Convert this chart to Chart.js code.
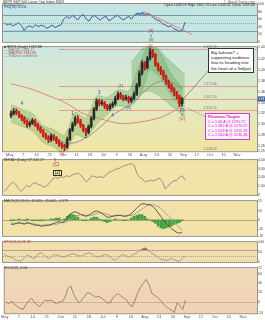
<!DOCTYPE html>
<html>
<head>
<meta charset="utf-8">
<script src="https://cdn.jsdelivr.net/npm/chart.js@4.4.0/dist/chart.umd.min.js"></script>
<style>
  body { margin: 0; width: 265px; height: 320px; background: #fff; position: relative; overflow: hidden; font-family: "Liberation Sans", Arial, sans-serif; }
  .pane { position: absolute; left: 0; width: 265px; }
  .txt { position: absolute; font-size: 3.6px; line-height: 4px; color: #333; white-space: nowrap; }
  .note { position: absolute; background: #fff; border: 1px solid #333; font-size: 4.3px; line-height: 5.2px; padding: 1px 2px; color: #111; white-space: nowrap; }
  .fib { position: absolute; background: #fbf2fb; border: 1px solid #d040c0; font-size: 3.8px; line-height: 4.6px; padding: 1px 2px; color: #d020c0; white-space: nowrap; }
</style>
</head>
<body>
<div class="pane" style="top:0;height:45px"><canvas id="rsiChart"></canvas></div>
<div class="pane" style="top:44px;height:114px"><canvas id="priceChart"></canvas></div>
<div class="pane" style="top:157px;height:41px"><canvas id="adChart"></canvas></div>
<div class="pane" style="top:198px;height:41px"><canvas id="macdChart"></canvas></div>
<div class="pane" style="top:239px;height:26px"><canvas id="stoChart"></canvas></div>
<div class="pane" style="top:265px;height:55px"><canvas id="rocChart"></canvas></div>

<div class="txt" style="left:3px;top:0">$SPX S&amp;P 500 Large Cap Index  INDX</div>
<div class="txt" style="left:3px;top:3px;color:#666">16-Nov-2012</div>
<div class="txt" style="right:10px;top:0;color:#666">© StockCharts.com</div>
<div class="txt" style="right:10px;top:3px">Open 1348.59 High 1362.19 Low 1343.35 Close 1359.88</div>
<div class="txt" style="left:4px;top:5px;color:#2050b0">RSI(14) 50.04</div>
<div class="txt" style="left:4px;top:45px">■ $SPX (Daily) 1359.88</div>
<div class="txt" style="left:4px;top:48px;color:#777">— MA(50) 1408.17</div>
<div class="txt" style="left:4px;top:51px;color:#d03030">— MA(200) 1384.69</div>
<div class="txt" style="left:4px;top:54px;color:#777">— Volume undefined</div>
<div class="txt" style="left:4px;top:158px">$NYAD (Daily) 37,522.27</div>
<div class="txt" style="left:4px;top:199px">MACD(12,26,9) -12.620, -11.041, -1.579</div>
<div class="txt" style="left:4px;top:240px;color:#c03030">STO(14,3) 21.35</div>
<div class="txt" style="left:4px;top:266px">ROC(12) -1.54</div>

<div class="txt" style="left:54px;top:158px;color:#2040c0;font-size:4px">5</div>
<div class="txt" style="left:53px;top:163px;color:#d02020;font-size:4.5px">(C)</div>
<div class="txt" style="left:53px;top:170px;color:#111;font-size:4.5px;border:0.5px solid #333;padding:0 1px">[2]</div>

<div class="note" style="left:208px;top:48px">Big kahuna? +<br>supporting evidence<br>that its heading into<br>the heart of a 3rd(pz)</div>
<div class="fib" style="left:205px;top:113px"><b>Fibonacci Targets</b><br>C = 1.00 A @ 1295.72<br>C = 1.382 A @ 1270.57<br>C = 1.618 A @ 1255.28<br>C = 2.000 A @ 1230.48</div>

<script>
// tick labels, one every five bars
const tickLabels = ['May', '7', '14', '21', 'Jun', '11', '18', 'Jul', '9', '16', 'Aug', '13', '20', 'Sep', '17', 'Oct', '15', 'Nov'];

// price candles
const opens = [1316, 1320, 1325, 1321, 1316, 1311, 1305, 1299, 1302, 1307,
  1300, 1293, 1288, 1281, 1276, 1271, 1278, 1275, 1268, 1263,
  1260, 1258, 1272, 1289, 1300, 1311, 1306, 1298, 1290, 1285,
  1296, 1311, 1328, 1343, 1338, 1340, 1334, 1329, 1334, 1338,
  1348, 1356, 1351, 1347, 1350, 1343, 1348, 1356, 1372, 1395,
  1414, 1405, 1422, 1436, 1429, 1411, 1404, 1397, 1388, 1379,
  1372, 1365, 1358, 1352, 1338];
const closes = [1320, 1324, 1322, 1316, 1311, 1305, 1298, 1302, 1307, 1300,
  1293, 1288, 1280, 1276, 1271, 1278, 1275, 1268, 1263, 1260,
  1257, 1272, 1289, 1300, 1311, 1306, 1298, 1290, 1284, 1296,
  1311, 1328, 1343, 1338, 1340, 1333, 1329, 1334, 1338, 1348,
  1356, 1351, 1347, 1350, 1343, 1348, 1356, 1372, 1395, 1414,
  1405, 1422, 1436, 1429, 1411, 1404, 1397, 1388, 1379, 1372,
  1365, 1358, 1352, 1338, 1347];
const highs = [1325, 1329, 1328, 1324, 1318, 1314, 1308, 1306, 1311, 1309,
  1302, 1296, 1290, 1284, 1279, 1282, 1281, 1277, 1271, 1266,
  1263, 1276, 1292, 1304, 1315, 1316, 1309, 1300, 1293, 1299,
  1314, 1331, 1347, 1346, 1345, 1342, 1337, 1338, 1342, 1352,
  1360, 1359, 1354, 1354, 1352, 1351, 1360, 1376, 1399, 1418,
  1416, 1426, 1441, 1439, 1431, 1414, 1407, 1400, 1391, 1382,
  1375, 1368, 1361, 1354, 1350];
const lows = [1312, 1317, 1318, 1312, 1306, 1301, 1294, 1295, 1299, 1296,
  1289, 1284, 1276, 1272, 1266, 1268, 1270, 1264, 1259, 1255,
  1251, 1255, 1270, 1286, 1297, 1302, 1294, 1286, 1279, 1282,
  1293, 1308, 1325, 1334, 1335, 1329, 1325, 1326, 1331, 1335,
  1345, 1347, 1343, 1344, 1339, 1340, 1345, 1353, 1369, 1391,
  1400, 1402, 1419, 1424, 1407, 1399, 1392, 1383, 1374, 1367,
  1360, 1353, 1347, 1333, 1334];

// envelope around price [bar, value]
const bandUpper = [[0, 1336], [4, 1328], [8, 1320], [12, 1298], [16, 1290], [20, 1280], [24, 1322], [28, 1312], [32, 1352],
  [36, 1350], [40, 1364], [44, 1362], [48, 1410], [52, 1448], [56, 1430], [60, 1392], [64, 1368]];
const bandLower = [[0, 1304], [4, 1296], [8, 1288], [12, 1266], [16, 1258], [20, 1244], [24, 1280], [28, 1275], [32, 1300],
  [36, 1318], [40, 1334], [44, 1332], [48, 1350], [52, 1400], [56, 1385], [60, 1352], [64, 1330]];
// declining channel after the top
const channelUpper = [[45, 1415], [52, 1451], [58, 1424], [65, 1392]];
const channelLower = [[45, 1349], [52, 1361], [60, 1334], [65, 1313]];
// moving averages [bar, value]
const ma50 = [[0, 1322], [6, 1311], [13, 1290], [20, 1266], [27, 1272], [35, 1302], [38, 1317], [45, 1338], [51, 1366], [56, 1380], [61, 1376], [64, 1366]];
const ma200 = [[0, 1375], [7, 1366], [14, 1353], [21, 1338], [27, 1320], [35, 1308], [40, 1302], [45, 1302], [55, 1311], [60, 1322], [64, 1335]];
const fibLevels = [1440, 1371, 1347, 1326];

// indicator panels
const rsi = [50, 45, 48, 42, 46, 50, 44, 30, 40, 42, 38, 45, 40, 44, 42, 36, 40, 44, 38, 42, 45, 60, 67,
  62, 70, 65, 58, 68, 72, 60, 55, 66, 70, 62, 58, 64, 68, 56, 60, 66, 70, 64, 58, 62, 68, 60,
  70, 76, 74, 78, 72, 75, 70, 62, 58, 55, 48, 45, 40, 42, 35, 32, 28, 30, 52];
const nyad = [400, 800, 1200, 1500, 1200, 700, 400, 800, 1100, 900,
  1300, 1400, 1200, 1100, 900, 1000, 1400, 1800, 2000, 1900,
  2100, 2000, 2200, 2100, 2300, 2400, 2500, 2300, 1900, 1500,
  1800, 2200, 2100, 2000, 2100, 2000, 2300, 2600, 2700, 2900,
  3000, 3100, 3300, 3400, 3500, 3600, 3400, 2400, 2000, 1800,
  1500, 1600, 1700, 1600, 1800, 1900, 1500, 700, 1000, 1400,
  1600, 1700, 2000, 2200, 1700];
const macd = [-5, -5, -4, -3, -4, -5, -3, -4, -5, -6, -6, -7, -7, -6, -6, -5, -4, -3, -2, -3,
  -2, 2, 6, 8, 9, 8, 6, 5, 4, 5, 7, 9, 10, 9, 7, 5, 3, 3, 4, 5,
  5, 5, 4, 4, 5, 7, 10, 13, 16, 18, 18, 17, 17, 15, 12, 8, 4, 0, -4, -7,
  -10, -12, -14, -15, -14];
const macdSignal = [-4, -4, -4, -4, -4, -4, -4, -4, -4, -5, -5, -6, -6, -6, -6, -6, -5, -5, -4, -3,
  -3, -2, 0, 2, 4, 5, 6, 6, 5, 5, 5, 6, 7, 8, 8, 7, 6, 5, 4, 4,
  5, 5, 5, 5, 5, 5, 6, 8, 10, 12, 14, 16, 17, 17, 16, 15, 13, 10, 7, 4,
  1, -3, -6, -9, -11];
const macdHist = [-1, -1, 0, 1, 0, -1, 1, 0, -1, -1, -1, -1, -1, 0, 0, 1, 1, 2, 2, 0,
  1, 4, 6, 6, 5, 3, 0, -1, -1, 0, 2, 3, 3, 1, -1, -2, -3, -2, 0, 1,
  0, 0, -1, -1, 0, 2, 4, 5, 6, 6, 4, 1, 0, -2, -4, -7, -9, -10, -9, -8,
  -7, -5, -4, -3, -1];
const stoch = [38, 30, 25, 20, 10, 6, 4, 20, 35, 28, 18, 22, 40, 46, 35, 22, 17, 30, 38, 34,
  28, 25, 30, 36, 42, 38, 32, 29, 35, 42, 46, 40, 30, 25, 28, 34, 38, 30, 18, 8,
  15, 30, 38, 32, 25, 30, 40, 46, 58, 67, 71, 60, 45, 37, 28, 17, 12, 8, 10, 17,
  12, 6, 4, 15, 29];
const roc = [0, -4, 2, -6, -10, -14, -16, -6, 2, 8, 0, -6, -10, -2, 4, 2, 4, 0, -4, 0,
  0, 10, 28, 34, 18, 6, -2, 4, 12, 20, 18, 14, 10, 12, 8, 4, -2, -2, 8, 14,
  18, 12, 8, 4, -6, -10, 4, 20, 32, 40, 48, 36, 18, 14, 10, 4, -4, -10, -14, -18,
  -22, -2, -8, -16, 4];

const FONT = '"Liberation Sans", Arial, sans-serif';
const seq = arr => arr.map((y, x) => ({ x, y }));
const pairs = arr => arr.map(([x, y]) => ({ x, y }));

function line(data, color, width, extra) {
  return Object.assign({ type: 'line', data, borderColor: color, borderWidth: width, pointRadius: 0, tension: 0, fill: false, order: 2 }, extra || {});
}

// background, reference lines and border for one panel
function panelPlugin(cfg) {
  return {
    id: 'panel',
    beforeDraw(chart) {
      const { ctx, chartArea: a } = chart;
      const g = ctx.createLinearGradient(0, a.top, 0, a.bottom);
      cfg.bg.forEach((c, k) => g.addColorStop(cfg.bg.length === 1 ? 0 : k / (cfg.bg.length - 1), c));
      ctx.save();
      ctx.fillStyle = g;
      ctx.fillRect(a.left, a.top, a.right - a.left, a.bottom - a.top);
      (cfg.lines || []).forEach(l => {
        const py = Math.round(chart.scales.y.getPixelForValue(l.v)) + 0.5;
        const x0 = l.from != null ? chart.scales.x.getPixelForValue(l.from) : a.left;
        ctx.strokeStyle = l.c;
        ctx.lineWidth = l.w || 1;
        ctx.setLineDash(l.dash || []);
        ctx.beginPath();
        ctx.moveTo(x0, py);
        ctx.lineTo(a.right, py);
        ctx.stroke();
      });
      ctx.restore();
    },
    afterDraw(chart) {
      const { ctx, chartArea: a } = chart;
      ctx.save();
      ctx.strokeStyle = '#9a9282';
      ctx.lineWidth = 1;
      ctx.strokeRect(a.left - 0.5, a.top - 0.5, a.right - a.left + 1, a.bottom - a.top + 1);
      ctx.restore();
      if (cfg.after) cfg.after(chart);
    }
  };
}

function panel(id, cfg) {
  return new Chart(document.getElementById(id), {
    type: 'line',
    data: { datasets: cfg.datasets },
    options: {
      animation: false,
      responsive: true,
      maintainAspectRatio: false,
      layout: { padding: { left: 3, right: 0, top: cfg.padTop || 1, bottom: 0 } },
      plugins: { legend: { display: false }, tooltip: { enabled: false } },
      scales: {
        x: {
          type: 'linear', min: -0.5, max: 89.5, display: !!cfg.showX,
          grid: { display: false, drawTicks: false }, border: { display: false },
          ticks: {
            stepSize: 5, includeBounds: false, autoSkip: false, maxRotation: 0, padding: 1,
            font: { size: 4, family: FONT }, color: '#555',
            callback: v => tickLabels[Math.round(v / 5)] || ''
          }
        },
        y: {
          position: 'right', min: cfg.min, max: cfg.max,
          grid: { display: false, drawTicks: false }, border: { display: false },
          ticks: { stepSize: cfg.step, font: { size: 3.5, family: FONT }, color: '#444', padding: 1 },
          afterFit: s => { s.width = 8; }
        }
      }
    },
    plugins: [panelPlugin(cfg)]
  });
}

function label(chart, i, v, text, color, size) {
  const ctx = chart.ctx;
  ctx.save();
  ctx.font = (size || 4.5) + 'px ' + FONT;
  ctx.fillStyle = color;
  ctx.textAlign = 'center';
  ctx.textBaseline = 'middle';
  ctx.fillText(text, chart.scales.x.getPixelForValue(i), chart.scales.y.getPixelForValue(v));
  ctx.restore();
}

// RSI panel
panel('rsiChart', {
  padTop: 4, min: 0, max: 100, step: 10,
  bg: ['#c3e4e3', '#c9e7de'],
  lines: [
    { v: 70, c: '#7c9cb0' }, { v: 30, c: '#7c9cb0' }, { v: 50, c: '#8aa6c8', dash: [1, 1] }
  ],
  datasets: [
    line(seq(rsi), '#5a6aa8', 0.8, { fill: { target: { value: 70 }, above: 'rgba(50,140,170,0.75)', below: 'rgba(0,0,0,0)' } }),
    line(seq(rsi), '#5a6aa8', 0.8, { fill: { target: { value: 30 }, above: 'rgba(0,0,0,0)', below: 'rgba(50,110,190,0.75)' } })
  ],
  after(chart) {
    const { ctx, scales } = chart;
    ctx.save();
    ctx.strokeStyle = '#e07060';
    ctx.lineWidth = 0.8;
    ctx.beginPath();
    ctx.moveTo(scales.x.getPixelForValue(49.5), scales.y.getPixelForValue(80));
    ctx.lineTo(scales.x.getPixelForValue(66.5), scales.y.getPixelForValue(20));
    ctx.stroke();
    ctx.restore();
    label(chart, 52, 28, '[3]', '#d02020', 4);
    label(chart, 52, 15, '5', '#2040c0', 4);
    label(chart, 52, 4, '[3]', '#208020', 4);
  }
});

// price panel
const fibNames = ['1,439.92', '1,371.06', '1,347.20', '1,326.35'];
panel('priceChart', {
  padTop: 1, min: 1250, max: 1443, step: 20, showX: true,
  bg: ['#cde7e1', '#dfeac4', '#f2e4a4'],
  lines: fibLevels.map(v => ({ v, c: '#e89a8e', from: 18 })),
  datasets: [
    line(pairs(channelUpper), 'rgba(70,140,70,0.5)', 0.5, { fill: '+1', backgroundColor: 'rgba(70,150,70,0.28)', order: 6, tension: 0.3 }),
    line(pairs(channelLower), 'rgba(70,140,70,0.5)', 0.5, { order: 6, tension: 0.3 }),
    line(pairs(bandUpper), 'rgba(80,150,70,0.5)', 0.5, { fill: '+1', backgroundColor: 'rgba(90,170,80,0.33)', order: 5, tension: 0.3 }),
    line(pairs(bandLower), 'rgba(80,150,70,0.5)', 0.5, { order: 5, tension: 0.3 }),
    line(pairs(ma200), '#e07a7a', 0.9, { tension: 0.4 }),
    line(pairs(ma50), '#8c8c8c', 0.9, { tension: 0.4 }),
    {
      type: 'bar', order: 1, grouped: false, barThickness: 1,
      data: lows.map((l, x) => ({ x, y: [l, highs[x]] })),
      backgroundColor: closes.map((c, k) => c >= opens[k] ? '#333' : '#b81010')
    },
    {
      type: 'bar', order: 0, grouped: false, barThickness: 2,
      data: opens.map((o, x) => ({ x, y: [o, closes[x]] })),
      backgroundColor: closes.map((c, k) => c >= opens[k] ? '#2a2a2a' : '#e01818')
    }
  ],
  after(chart) {
    const { ctx, scales, chartArea: a } = chart;
    ctx.save();
    ctx.font = '3.4px ' + FONT;
    ctx.fillStyle = '#777';
    fibLevels.forEach((v, k) => ctx.fillText(fibNames[k], scales.x.getPixelForValue(72), scales.y.getPixelForValue(v) - 1));
    ctx.fillText('1,248.64', scales.x.getPixelForValue(72), a.bottom - 1);
    // leader lines to the notes
    ctx.strokeStyle = '#555';
    ctx.lineWidth = 0.6;
    ctx.beginPath();
    ctx.moveTo(scales.x.getPixelForValue(64.5), scales.y.getPixelForValue(1347));
    ctx.lineTo(209, 26);
    ctx.stroke();
    ctx.strokeStyle = '#999';
    ctx.beginPath();
    ctx.moveTo(scales.x.getPixelForValue(66), scales.y.getPixelForValue(1330));
    ctx.lineTo(206, 73);
    ctx.stroke();
    // last close marker on the axis
    const py = scales.y.getPixelForValue(closes[closes.length - 1]);
    ctx.fillStyle = '#3a5a9a';
    ctx.fillRect(a.right + 1, py - 2.5, 8, 5);
    ctx.fillStyle = '#fff';
    ctx.font = '3.4px ' + FONT;
    ctx.textBaseline = 'middle';
    ctx.fillText(String(closes[closes.length - 1]), a.right + 1.5, py);
    ctx.restore();
    label(chart, 4, 1338, '4', '#2040c0');
    label(chart, 23, 1320, '1', '#2040c0');
    label(chart, 28, 1276, '2', '#2040c0');
    label(chart, 33, 1358, '3', '#2040c0');
    label(chart, 38, 1316, '4', '#2040c0');
    label(chart, 41, 1372, '[1]', '#208020', 4);
    label(chart, 52, 1446, '[3]', '#d02020');
    label(chart, 44, 1330, '(5)', '#2040c0', 4);
    label(chart, 64, 1326, '(5)', '#2040c0', 4);
    label(chart, 64, 1318, '5', '#208020', 4);
    label(chart, 64, 1309, '[C]', '#d02020', 4);
    label(chart, 19, 1247, '[1]', '#d02020', 4);
  }
});

// advance-decline line
panel('adChart', {
  min: 0, max: 4000, step: 1000,
  bg: ['#f2e3a8'],
  datasets: [line(seq(nyad), '#8a8a8a', 0.9)]
});

// MACD
panel('macdChart', {
  min: -18, max: 21, step: 10,
  bg: ['#f2e1a9'],
  lines: [{ v: 0, c: '#b8aa80' }],
  datasets: [
    { type: 'bar', order: 3, barThickness: 2, data: seq(macdHist), backgroundColor: '#46a040' },
    line(seq(macd), '#4a4a4a', 0.9, { order: 1 }),
    line(seq(macdSignal), '#a09890', 0.9, { order: 2 })
  ]
});

// stochastic
panel('stoChart', {
  min: 0, max: 100, step: 50,
  bg: ['#f1deaf'],
  lines: [{ v: 60, c: '#b0a48a' }, { v: 30, c: '#b0a48a', dash: [1, 1] }],
  datasets: [
    line(seq(stoch), '#9a8a80', 0.8, { fill: { target: { value: 60 }, above: 'rgba(190,40,130,0.8)', below: 'rgba(0,0,0,0)' } })
  ]
});

// rate of change
panel('rocChart', {
  min: -24, max: 72, step: 20, showX: true,
  bg: ['#f0d9b8', '#f0d3b4'],
  lines: [{ v: 0, c: '#a09888', dash: [1, 1] }],
  datasets: [line(seq(roc), '#8c7e74', 0.9)]
});
</script>
</body>
</html>
